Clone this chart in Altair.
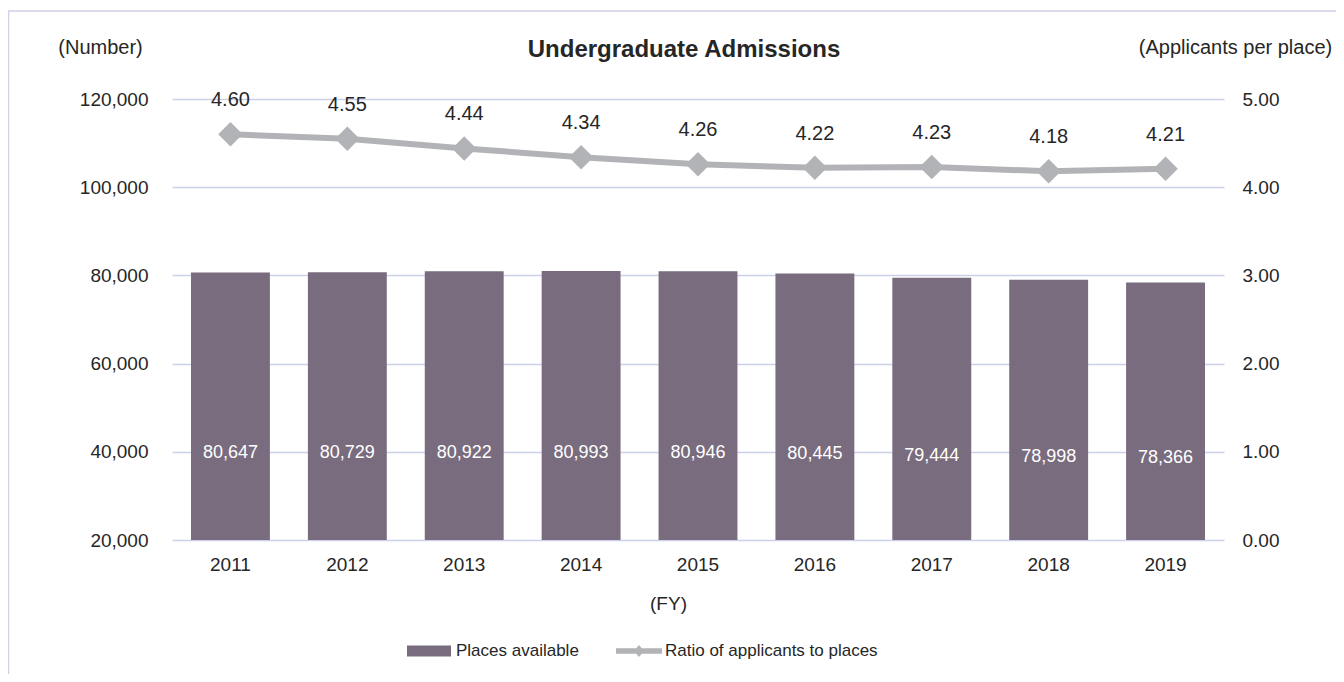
import altair as alt
import pandas as pd

years = ["2011", "2012", "2013", "2014", "2015", "2016", "2017", "2018", "2019"]
places = [80647, 80729, 80922, 80993, 80946, 80445, 79444, 78998, 78366]
ratio = [4.60, 4.55, 4.44, 4.34, 4.26, 4.22, 4.23, 4.18, 4.21]
left_ticks = [20000, 40000, 60000, 80000, 100000, 120000]
right_ticks = [0, 1, 2, 3, 4, 5]
bar_series = "Places available"
line_series = "Ratio of applicants to places"

df = pd.DataFrame({
    "year": years,
    "places": places,
    "ratio": ratio,
    "bar_s": [bar_series] * len(years),
    "line_s": [line_series] * len(years),
})

FONT = "Liberation Sans"
TXT = "#262626"
BAR = "#796c7e"
LINE = "#b2b3b7"
GRID = "#cdd0ea"

x_enc = alt.X(
    "year:N", sort=years,
    scale=alt.Scale(paddingInner=0.325, paddingOuter=0.1625),
    axis=alt.Axis(title="(FY)", labelAngle=0, domain=False, ticks=False, tickSize=0,
                  labelPadding=15, labelFontSize=19, labelColor=TXT, labelFont=FONT,
                  titleFont=FONT, titleFontSize=19, titleFontWeight="normal", titleColor=TXT,
                  titleX=496, titleY=63, titleAlign="center", titleBaseline="middle"),
)

left_scale = alt.Scale(domain=[20000, 120000], zero=False, nice=False)
left_axis = alt.Axis(values=left_ticks, format=",.0f", orient="left", title="(Number)", titleAngle=0,
                     titleX=-72, titleY=-52, titleAlign="center", titleBaseline="middle",
                     titleFont=FONT, titleFontSize=20, titleFontWeight="normal", titleColor=TXT,
                     grid=True, gridColor=GRID, gridWidth=1.4, domain=False, ticks=False,
                     labelPadding=24, labelFontSize=19, labelFont=FONT, labelColor=TXT)
right_scale = alt.Scale(domain=[0, 5], zero=False, nice=False)
right_axis = alt.Axis(values=right_ticks, format=".2f", orient="right", title="(Applicants per place)",
                      titleAngle=0, titleX=11, titleY=-52, titleAlign="center", titleBaseline="middle",
                      titleFont=FONT, titleFontSize=20, titleFontWeight="normal", titleColor=TXT,
                      grid=False, domain=False, ticks=False,
                      labelPadding=18, labelFontSize=19, labelFont=FONT, labelColor=TXT)

base = alt.Chart(df)

bars = base.mark_bar().encode(
    x=x_enc,
    y=alt.Y("places:Q", scale=left_scale, axis=left_axis),
    y2=alt.datum(20000),
    color=alt.Color("bar_s:N", scale=alt.Scale(domain=[bar_series], range=[BAR]),
                    legend=alt.Legend(title=None, orient="none", legendX=235, legendY=530,
                                      symbolType="M-1,-0.25H1V0.25H-1Z", symbolSize=1936,
                                      symbolStrokeWidth=0, labelFontSize=17, labelFont=FONT,
                                      labelColor=TXT, labelOffset=5, padding=0, labelLimit=400)),
)

bar_labels = base.transform_calculate(mid="datum.places / 2").mark_text(
    color="white", fontSize=18, font=FONT, baseline="middle", dy=3
).encode(
    x=x_enc,
    y=alt.Y("mid:Q", scale=left_scale, axis=left_axis),
    text=alt.Text("places:Q", format=",.0f"),
)

line = base.mark_line(color=LINE, strokeWidth=6).encode(
    x=x_enc,
    y=alt.Y("ratio:Q", scale=right_scale, axis=right_axis),
)

points = base.mark_point(filled=True, shape="diamond", size=600, opacity=1).encode(
    x=x_enc,
    y=alt.Y("ratio:Q", scale=right_scale, axis=right_axis),
    color=alt.Color("line_s:N", scale=alt.Scale(domain=[line_series], range=[LINE]),
                    legend=alt.Legend(title=None, orient="none", legendX=444, legendY=529,
                                      symbolType="M-1,-0.12L-0.12,-0.12L0,-0.26L0.12,-0.12L1,-0.12L1,0.12L0.12,0.12L0,0.26L-0.12,0.12L-1,0.12Z",
                                      symbolSize=2116, symbolStrokeWidth=0,
                                      labelFontSize=17, labelFont=FONT, labelColor=TXT,
                                      labelOffset=3, padding=0, labelLimit=400)),
)

line_labels = base.mark_text(dy=-34, fontSize=20, font=FONT, color=TXT, baseline="middle").encode(
    x=x_enc,
    y=alt.Y("ratio:Q", scale=right_scale, axis=right_axis),
    text=alt.Text("ratio:Q", format=".2f"),
)

border = alt.Chart(alt.Data(values=[{"k": 1}])).mark_rect(
    fillOpacity=0, stroke="#cfd0ea", strokeWidth=1.5
).encode(
    x=alt.value(-163.5), x2=alt.value(1400), y=alt.value(-88), y2=alt.value(800)
)

left = alt.layer(bars, bar_labels)
right = alt.layer(line, points, line_labels)

chart = alt.layer(border, left, right).resolve_scale(
    y="independent", color="independent"
).properties(
    width=1052,
    height=441,
    title=alt.TitleParams("Undergraduate Admissions", fontSize=24, fontWeight="bold", font=FONT,
                          color=TXT, anchor="middle", frame="group", dx=-14, offset=-52),
    autosize=alt.AutoSizeParams(type="none"),
    padding={"left": 164, "top": 91, "right": 112, "bottom": 134},
).configure_view(strokeWidth=0)

chart.save("out.html", embed_options={"renderer": "svg", "actions": False})
